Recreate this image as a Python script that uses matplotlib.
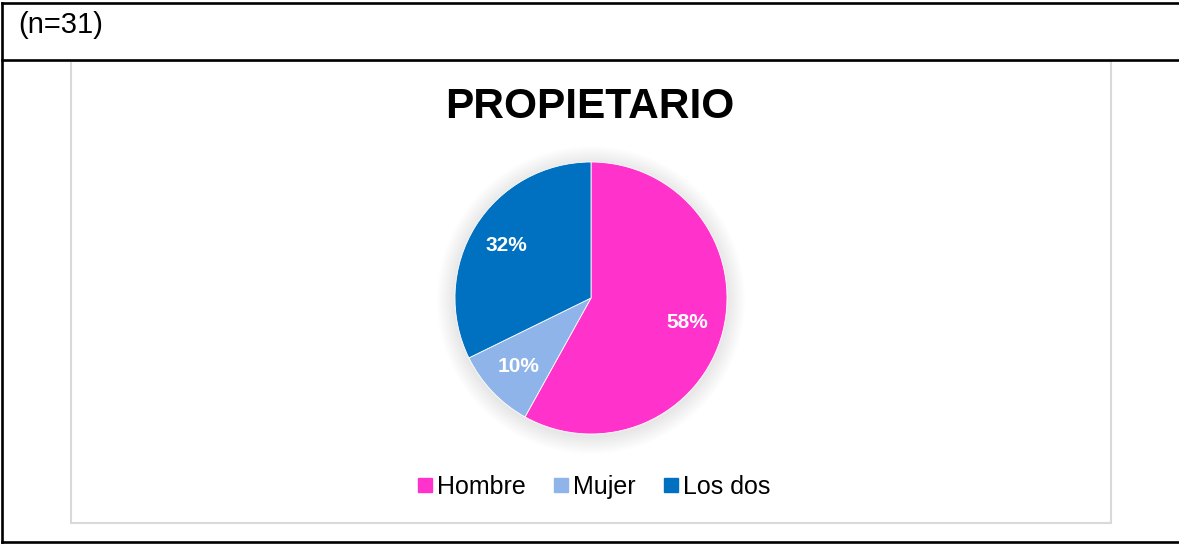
import matplotlib.pyplot as plt
from matplotlib.lines import Line2D
from matplotlib.patches import Rectangle, Circle

# datos (n=31)
categorias = ['Hombre', 'Mujer', 'Los dos']
conteos = [18, 3, 10]
colores = ['#FF33CC', '#8FB4EA', '#0070C0']
titulo = 'PROPIETARIO'
nota = '(n=31)'

W, H = 1179, 544
fig = plt.figure(figsize=(W / 100, H / 100), dpi=100)
fig.patch.set_facecolor('white')


def fx(px):
    return px / W


def fy(py):
    return 1 - py / H


# marco de la tabla
lw_negro = 1.9
fig.add_artist(Line2D([fx(2), 1], [fy(3), fy(3)], color='black', lw=lw_negro))
fig.add_artist(Line2D([fx(2), 1], [fy(60), fy(60)], color='black', lw=lw_negro))
fig.add_artist(Line2D([fx(2), 1], [fy(542), fy(542)], color='black', lw=lw_negro))
fig.add_artist(Line2D([fx(2), fx(2)], [fy(3), fy(542)], color='black', lw=lw_negro))

# area del grafico
fig.add_artist(Rectangle((fx(71), fy(523)), fx(1111) - fx(71), fy(61) - fy(523),
                         transform=fig.transFigure, fill=False, edgecolor='#d9d9d9', lw=1.5))

fig.text(fx(18), fy(25), nota, fontsize=21, family='Liberation Sans', va='center', ha='left')
fig.text(fx(590), fy(107), titulo, fontsize=30.5, fontweight='bold', family='Liberation Sans',
         va='center', ha='center')

# pastel
cx, cy, r = 591, 298, 136
ax = fig.add_axes([fx(cx - r), fy(cy + r), 2 * r / W, 2 * r / H])
ax.set_xlim(-1, 1)
ax.set_ylim(-1, 1)
ax.axis('off')

# sombra suave
for i in range(12):
    rad = 1.0 + 0.011 * (i + 1)
    ax.add_patch(Circle((0, -0.015), rad, color='black', alpha=0.006, lw=0, clip_on=False, zorder=0))

wedges, textos, autotextos = ax.pie(conteos, colors=colores, startangle=90, counterclock=False,
                                    radius=1, autopct='%.0f%%', pctdistance=0.73,
                                    wedgeprops=dict(edgecolor='white', linewidth=0.6))
for w in wedges:
    w.set_zorder(2)
for t in autotextos:
    t.set_color('white')
    t.set_fontsize(15)
    t.set_fontfamily('Liberation Sans')
    t.set_fontweight('bold')
    t.set_zorder(3)
ax.set_xlim(-1, 1)
ax.set_ylim(-1, 1)

handles = [Line2D([], [], marker='s', linestyle='none', markersize=10, color=c) for c in colores]
fig.legend(handles, categorias, loc='center', bbox_to_anchor=(fx(594), fy(487)), ncol=3,
           frameon=False, prop=dict(family='Liberation Sans', size=18),
           handlelength=0.6, handletextpad=0.2, columnspacing=1.1)

fig.savefig('out.png', dpi=100)
